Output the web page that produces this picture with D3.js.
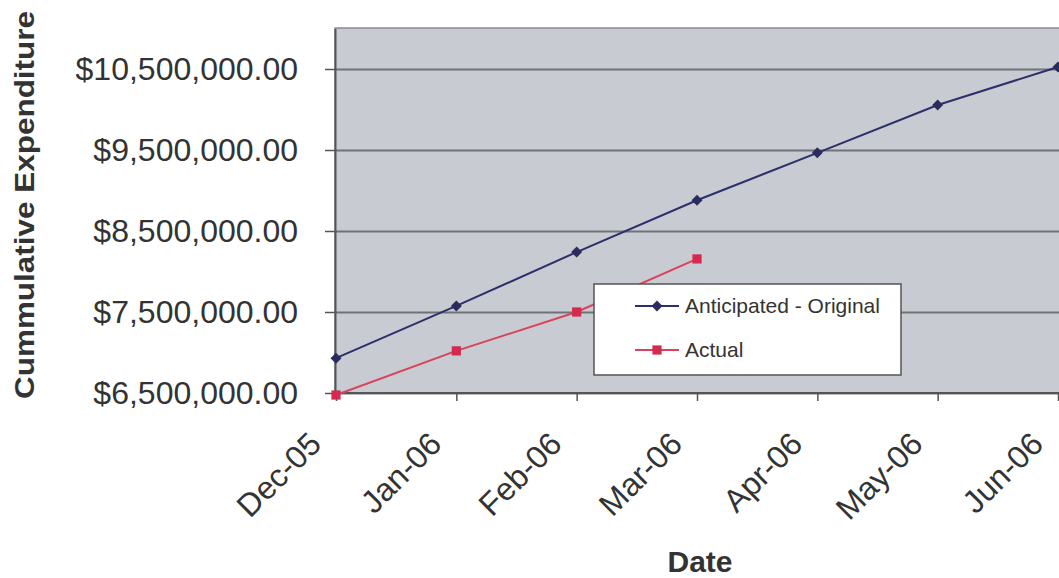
<!DOCTYPE html>
<html lang="en">
<head>
    <meta charset="UTF-8">
    <title>Cummulative Expenditure</title>
    <style>
        body { margin: 0; background: #fff; }
        text { font-family: Arial, 'Liberation Sans', sans-serif; fill: #333; }
    </style>
</head>
<body>

    <svg id="svg" width="1059" height="578"></svg>

    <script src="https://d3js.org/d3.v7.min.js"></script>
    <script>
        const months = ['Dec-05', 'Jan-06', 'Feb-06', 'Mar-06', 'Apr-06', 'May-06', 'Jun-06']
        const anticipated = [6930000, 7575000, 8240000, 8880000, 9465000, 10055000, 10525000]
        const actual = [6475000, 7020000, 7500000, 8155000]
        const yTicks = [6500000, 7500000, 8500000, 9500000, 10500000]
        const seriesNames = ['Anticipated - Original', 'Actual']

        const svg = d3.select('#svg')

        // plot area bounds
        const plotLeft = 335, plotTop = 28, plotBottom = 393, plotRight = 1140

        const xScale = d3.scalePoint()
            .domain(months)
            .range([336, 1058])

        const yScale = d3.scaleLinear()
            .domain([6500000, 11000000])
            .range([plotBottom, plotTop + 0.5])

        const fmt = d3.format('$,.2f')

        // plot background
        svg.append('rect')
            .attr('x', plotLeft)
            .attr('y', plotTop)
            .attr('width', plotRight - plotLeft)
            .attr('height', plotBottom - plotTop)
            .attr('fill', '#c8cbd1')
            .attr('stroke', '#8a8c90')
            .attr('stroke-width', 1.5)

        // gridlines
        svg.append('g')
            .attr('transform', `translate(${plotLeft},0)`)
            .call(d3.axisLeft(yScale).tickValues(yTicks).tickSize(-(plotRight - plotLeft)).tickFormat(''))
            .call(g => g.select('.domain').remove())
            .selectAll('line')
            .attr('stroke', '#6f7276')
            .attr('stroke-width', 2)

        // y axis
        const yAxis = svg.append('g')
            .attr('transform', `translate(${plotLeft},0)`)
            .call(d3.axisLeft(yScale).tickValues(yTicks).tickSize(10).tickSizeOuter(0).tickPadding(27).tickFormat(fmt))
        yAxis.select('.domain').attr('stroke', '#555').attr('stroke-width', 2)
        yAxis.selectAll('line').attr('stroke', '#555').attr('stroke-width', 1.5)
        yAxis.selectAll('text')
            .style('font-size', '32px')
            .attr('fill', '#333')

        // x axis
        const xAxis = svg.append('g')
            .attr('transform', `translate(0,${plotBottom})`)
            .call(d3.axisBottom(xScale).tickSize(8).tickSizeOuter(0).tickFormat(''))
        xAxis.select('.domain').attr('stroke', '#555').attr('stroke-width', 2).attr('d', `M${plotLeft},0H${plotRight}`)
        xAxis.selectAll('line').attr('stroke', '#555').attr('stroke-width', 1.5)

        svg.append('g')
            .selectAll('text')
            .data(months)
            .enter()
            .append('text')
            .text(d => d)
            .attr('text-anchor', 'end')
            .attr('transform', d => `translate(${xScale(d) - 13},${plotBottom + 53}) rotate(-45)`)
            .style('font-size', '32px')

        // axis titles
        svg.append('text')
            .text('Date')
            .attr('x', 700)
            .attr('y', 572)
            .attr('text-anchor', 'middle')
            .style('font-size', '30px')
            .style('font-weight', 'bold')

        svg.append('text')
            .text('Cummulative Expenditure')
            .attr('text-anchor', 'middle')
            .attr('transform', 'translate(34,205) rotate(-90)')
            .attr('textLength', 388)
            .attr('lengthAdjust', 'spacingAndGlyphs')
            .style('font-size', '28px')
            .style('font-weight', 'bold')

        // lines
        const line = d3.line()
            .x((d, i) => xScale(months[i]))
            .y(d => yScale(d))

        svg.append('path')
            .datum(anticipated)
            .attr('d', line)
            .attr('fill', 'none')
            .attr('stroke', '#2c2f6c')
            .attr('stroke-width', 2)

        svg.append('path')
            .datum(actual)
            .attr('d', line)
            .attr('fill', 'none')
            .attr('stroke', '#d8435e')
            .attr('stroke-width', 2)

        // diamond = square turned 45 degrees
        const diamond = d3.symbol().type(d3.symbolSquare).size(60)
        const square = d3.symbol().type(d3.symbolSquare).size(85)

        svg.append('g')
            .selectAll('path')
            .data(anticipated)
            .enter()
            .append('path')
            .attr('d', diamond)
            .attr('transform', (d, i) => `translate(${xScale(months[i])},${yScale(d)}) rotate(45)`)
            .attr('fill', '#2a2d5c')

        svg.append('g')
            .selectAll('path')
            .data(actual)
            .enter()
            .append('path')
            .attr('d', square)
            .attr('transform', (d, i) => `translate(${xScale(months[i])},${yScale(d)})`)
            .attr('fill', '#d42a50')

        // legend
        const legend = svg.append('g')
        legend.append('rect')
            .attr('x', 594)
            .attr('y', 284)
            .attr('width', 307)
            .attr('height', 91)
            .attr('fill', '#fff')
            .attr('stroke', '#555')
            .attr('stroke-width', 1.5)

        const legendColors = ['#2c2f6c', '#d8435e']
        const legendMarks = [diamond, square]
        const legendFill = ['#2a2d5c', '#d42a50']
        const legendRot = [45, 0]
        seriesNames.forEach((name, i) => {
            const ly = 306 + i * 44
            legend.append('line')
                .attr('x1', 635).attr('x2', 679)
                .attr('y1', ly).attr('y2', ly)
                .attr('stroke', legendColors[i])
                .attr('stroke-width', 2)
            legend.append('path')
                .attr('d', legendMarks[i])
                .attr('transform', `translate(657,${ly}) rotate(${legendRot[i]})`)
                .attr('fill', legendFill[i])
            legend.append('text')
                .text(name)
                .attr('x', 685)
                .attr('y', ly + 7)
                .style('font-size', '21px')
        })
    </script>
</body>
</html>
